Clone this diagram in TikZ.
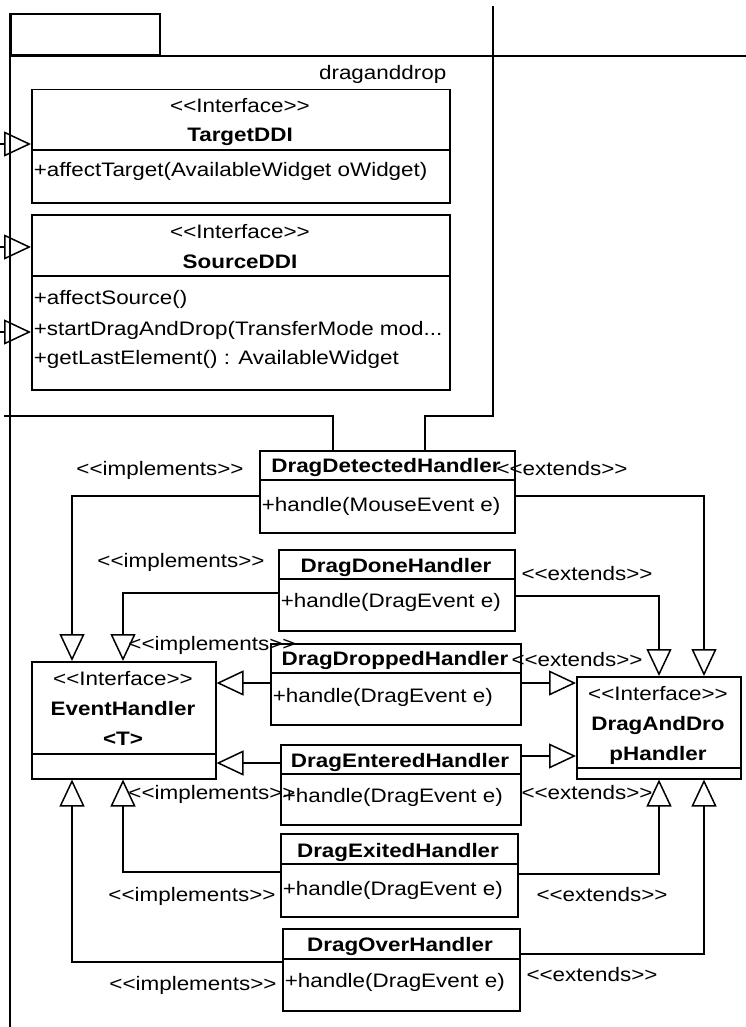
\documentclass[tikz,border=0pt]{standalone}
\usepackage{fontspec}
\setmainfont{Liberation Sans}[FakeStretch=1.15,Ligatures=TeXOff]
\usetikzlibrary{arrows.meta}
\begin{document}
\begin{tikzpicture}[x=1pt,y=-1pt,line width=1.5pt,
  txt/.style={inner sep=0pt,anchor=base,font=\fontsize{19.5}{22}\selectfont},
  bold/.style={txt,font=\fontsize{19.5}{22}\selectfont\bfseries},
  meth/.style={txt,anchor=base west},
  cls/.style={draw,inner sep=0pt,anchor=north west,fill=white},
  gen/.style={-{Triangle[open,length=27pt,width=25pt]}}
]
\useasboundingbox (0,0) rectangle (746,1027);

% package frame
\node[draw,inner sep=0pt,anchor=south west,minimum width=149pt,minimum height=41pt] (tab) at (10,56) {};
\coordinate (pkgbot) at (10,1027);
\coordinate (pkgright) at (746,56);
\draw (tab.north west) -- (pkgbot);
\draw (tab.south west) -- (pkgright);
\node[txt,anchor=base east] (pkgname) at (447,80) {draganddrop};

% TargetDDI
\node[cls,minimum width=418pt,minimum height=113pt] (target) at (31,89) {};
\draw (target.west |- 0,150) -- (target.east |- 0,150);
\node[txt] (targetst) at (240,113) {<<Interface>>};
\node[bold] (targetnm) at (240,142) {TargetDDI};
\node[meth] (targetm1) at (33,177) {+affectTarget(AvailableWidget oWidget)};

% SourceDDI
\node[cls,minimum width=418pt,minimum height=175pt] (source) at (31,214) {};
\draw (source.west |- 0,276) -- (source.east |- 0,276);
\node[txt] (sourcest) at (240,238) {<<Interface>>};
\node[bold] (sourcenm) at (240,268) {SourceDDI};
\node[meth] (sourcem1) at (33,304) {+affectSource()};
\node[meth] (sourcem2) at (33,335) {+startDragAndDrop(TransferMode mod...};
\node[meth] (sourcem3) at (33,364) {+getLastElement() : AvailableWidget};

% incoming generalizations on the left border
\coordinate (in1) at (0,144);
\coordinate (in2) at (0,247);
\coordinate (in3) at (0,332);
\draw[gen] (in1) -- (target.west |- in1);
\draw[gen] (in2) -- (source.west |- in2);
\draw[gen] (in3) -- (source.west |- in3);

% EventHandler<T>
\node[cls,minimum width=184pt,minimum height=117pt] (evh) at (31,661) {};
\draw (evh.west |- 0,754) -- (evh.east |- 0,754);
\node[txt] (evhst) at (123,685) {<<Interface>>};
\node[bold] (evhnm) at (123,715) {EventHandler};
\node[bold] (evhtp) at (123,745) {<T>};

% DragAndDropHandler
\node[cls,minimum width=164pt,minimum height=102pt] (dnd) at (576,676) {};
\draw (dnd.west |- 0,768) -- (dnd.east |- 0,768);
\node[txt] (dndst) at (658,700) {<<Interface>>};
\node[bold] (dndnm1) at (658,730) {DragAndDro};
\node[bold] (dndnm2) at (658,760) {pHandler};

% handler classes
\node[cls,minimum width=255pt,minimum height=82pt] (detected) at (259,450) {};
\draw (detected.west |- 0,480) -- (detected.east |- 0,480);
\node[bold] (detectednm) at (386,472) {DragDetectedHandler};
\node[meth] (detectedm) at (261,511) {+handle(MouseEvent e)};

\node[cls,minimum width=236pt,minimum height=81pt] (done) at (278,549) {};
\draw (done.west |- 0,579) -- (done.east |- 0,579);
\node[bold] (donenm) at (396,572) {DragDoneHandler};
\node[meth] (donem) at (280,607) {+handle(DragEvent e)};

\node[cls,minimum width=250pt,minimum height=81pt] (dropped) at (270,643) {};
\draw (dropped.west |- 0,673) -- (dropped.east |- 0,673);
\node[bold] (droppednm) at (395,665) {DragDroppedHandler};
\node[meth] (droppedm) at (272,702) {+handle(DragEvent e)};

\node[cls,minimum width=240pt,minimum height=80pt] (entered) at (280,744) {};
\draw (entered.west |- 0,774) -- (entered.east |- 0,774);
\node[bold] (enterednm) at (400,767) {DragEnteredHandler};
\node[meth] (enteredm) at (282,802) {+handle(DragEvent e)};

\node[cls,minimum width=237pt,minimum height=83pt] (exited) at (280,833) {};
\draw (exited.west |- 0,864) -- (exited.east |- 0,864);
\node[bold] (exitednm) at (398,857) {DragExitedHandler};
\node[meth] (exitedm) at (282,895) {+handle(DragEvent e)};

\node[cls,minimum width=237pt,minimum height=82pt] (over) at (282,928) {};
\draw (over.west |- 0,959) -- (over.east |- 0,959);
\node[bold] (overnm) at (400,951) {DragOverHandler};
\node[meth] (overm) at (284,987) {+handle(DragEvent e)};

% links leaving the top of DragDetectedHandler
\coordinate (leftend) at (4,416);
\coordinate (topend) at (493,6);
\draw (detected.north -| 333,0) |- (leftend);
\draw (detected.north -| 425,0) -- ++(0,-34) -| (topend);

% realizations of EventHandler
\draw[gen] (detected.west |- 0,496) -| (evh.north -| 72,0);
\draw[gen] (done.west |- 0,593) -| (evh.north -| 123,0);
\draw[gen] (dropped.west |- 0,683) -- (evh.east |- 0,683);
\draw[gen] (entered.west |- 0,763) -- (evh.east |- 0,763);
\draw[gen] (exited.west |- 0,872) -| (evh.south -| 123,0);
\draw[gen] (over.west |- 0,962) -| (evh.south -| 72,0);

% generalizations of DragAndDropHandler
\draw[gen] (detected.east |- 0,496) -| (dnd.north -| 704,0);
\draw[gen] (done.east |- 0,596) -| (dnd.north -| 659,0);
\draw[gen] (dropped.east |- 0,683) -- (dnd.west |- 0,683);
\draw[gen] (entered.east |- 0,756) -- (dnd.west |- 0,756);
\draw[gen] (exited.east |- 0,874) -| (dnd.south -| 659,0);
\draw[gen] (over.east |- 0,954) -| (dnd.south -| 704,0);

% stereotype labels
\node[txt] (impl1) at (160,475) {<<implements>>};
\node[txt] (impl2) at (181,567) {<<implements>>};
\node[txt] (impl3) at (212,650) {<<implements>>};
\node[txt] (impl4) at (212,799) {<<implements>>};
\node[txt] (impl5) at (192,901) {<<implements>>};
\node[txt] (impl6) at (193,990) {<<implements>>};
\node[txt] (ext1) at (562,475) {<<extends>>};
\node[txt] (ext2) at (587,580) {<<extends>>};
\node[txt] (ext3) at (577,666) {<<extends>>};
\node[txt] (ext4) at (587,799) {<<extends>>};
\node[txt] (ext5) at (602,901) {<<extends>>};
\node[txt] (ext6) at (592,981) {<<extends>>};
\end{tikzpicture}
\end{document}
